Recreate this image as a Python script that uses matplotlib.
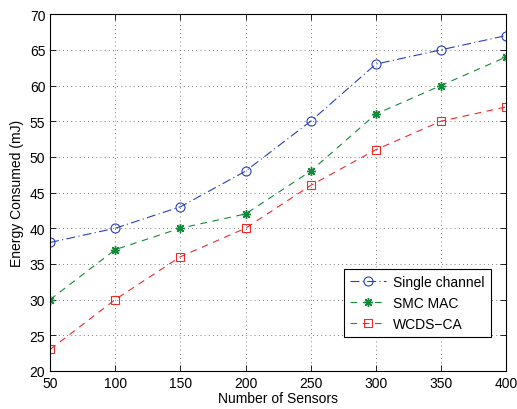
import matplotlib
matplotlib.use("Agg")
import matplotlib.pyplot as plt

sensors = [50, 100, 150, 200, 250, 300, 350, 400]
single_channel = [38, 40, 43, 48, 55, 63, 65, 67]
smc_mac = [30, 37, 40, 42, 48, 56, 60, 64]
wcds_ca = [23, 30, 36, 40, 46, 51, 55, 57]
labels = ["Single channel", "SMC MAC", "WCDS\u2212CA"]

plt.rcParams['font.family'] = ['Liberation Sans', 'DejaVu Sans']
plt.rcParams['font.size'] = 9

fig = plt.figure(figsize=(5.17, 4.10), dpi=100)
ax = fig.add_axes([0.097, 0.093, 0.882, 0.870])

ax.plot(sensors, single_channel, linestyle='-.', color='#2a3fc0', marker='o',
        markerfacecolor='none', markersize=6.5, linewidth=0.8, markeredgewidth=0.8,
        dashes=[8, 3, 1, 3], label=labels[0])
ax.plot(sensors, smc_mac, linestyle='--', color='#138a3a', marker=(8, 2, 0),
        markersize=6.5, linewidth=0.8, markeredgewidth=1.0, dashes=[6, 5], label=labels[1])
ax.plot(sensors, wcds_ca, linestyle='--', color='#ee2a2a', marker='s',
        markerfacecolor='none', markersize=6, linewidth=0.8, markeredgewidth=0.8,
        dashes=[6, 5], label=labels[2])

ax.set_xlim(50, 400)
ax.set_ylim(20, 70)
ax.set_xticks(sensors)
ax.set_yticks(range(20, 71, 5))
ax.grid(True, linestyle=(0, (1, 4)), color='#555555', linewidth=0.6)
ax.set_axisbelow(True)
ax.tick_params(direction='in', top=True, right=True, length=4, width=0.6, labelsize=10)
for s in ax.spines.values():
    s.set_linewidth(0.8)
ax.set_xlabel("Number of Sensors", fontsize=10, labelpad=1)
ax.set_ylabel("Energy Consumed (mJ)", fontsize=10, labelpad=4)

leg = ax.legend(loc='lower right', bbox_to_anchor=(0.967, 0.095), borderaxespad=0,
                fancybox=False, edgecolor='black', framealpha=1, fontsize=10,
                handlelength=2.6, borderpad=0.45, labelspacing=0.5, handletextpad=0.5)
leg.get_frame().set_linewidth(0.8)

fig.savefig("out.png", dpi=100)
